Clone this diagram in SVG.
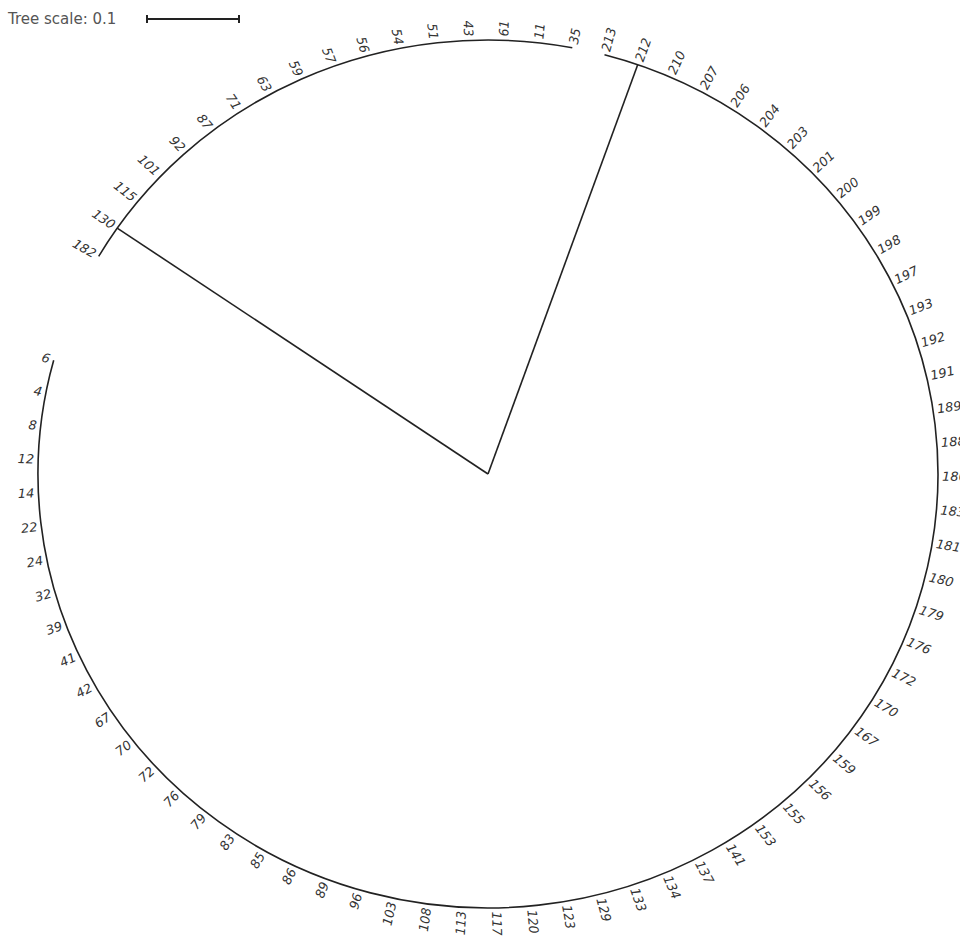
<svg xmlns="http://www.w3.org/2000/svg" width="960" height="942" viewBox="0 0 960 942">
<style>
.lab{font-family:"DejaVu Sans",sans-serif;font-size:13px;font-style:italic;fill:#333}
.l{text-anchor:end}
.edge{fill:none;stroke:#222;stroke-width:1.6}
.scale{fill:none;stroke:#222;stroke-width:2}
.st{font-family:"DejaVu Sans",sans-serif;font-size:15px;fill:#555}
</style>
<rect width="960" height="942" fill="#fff"/>
<g id="scale-bar">
<text class="st" x="8" y="24">Tree scale: 0.1</text>
<path class="scale" d="M147 19H239M147 15V23M239 15V23"/>
</g>
<g id="tree" transform="translate(488 474) scale(1 0.9644)">
<g id="connectors">
<path class="edge" vector-effect="non-scaling-stroke" d="M116.5,-434.7 A450,450 0 1 1 -434.3,-118.0"/>
<path class="edge" vector-effect="non-scaling-stroke" d="M-389.3,-225.7 A450,450 0 0 1 84.3,-442.0"/>
<path class="edge" vector-effect="non-scaling-stroke" d="M0,0 L149.7,-424.4"/>
<path class="edge" vector-effect="non-scaling-stroke" d="M0,0 L-370.8,-255.0"/>
</g>
<g id="leaves-right-clade">
<g id="leaf-213" transform="rotate(-75)"><text class="lab" x="454" dy=".35em">213</text></g>
<g id="leaf-212" transform="rotate(-70.57)"><text class="lab" x="454" dy=".35em">212</text></g>
<g id="leaf-210" transform="rotate(-66.14)"><text class="lab" x="454" dy=".35em">210</text></g>
<g id="leaf-207" transform="rotate(-61.71)"><text class="lab" x="454" dy=".35em">207</text></g>
<g id="leaf-206" transform="rotate(-57.28)"><text class="lab" x="454" dy=".35em">206</text></g>
<g id="leaf-204" transform="rotate(-52.85)"><text class="lab" x="454" dy=".35em">204</text></g>
<g id="leaf-203" transform="rotate(-48.42)"><text class="lab" x="454" dy=".35em">203</text></g>
<g id="leaf-201" transform="rotate(-43.99)"><text class="lab" x="454" dy=".35em">201</text></g>
<g id="leaf-200" transform="rotate(-39.56)"><text class="lab" x="454" dy=".35em">200</text></g>
<g id="leaf-199" transform="rotate(-35.13)"><text class="lab" x="454" dy=".35em">199</text></g>
<g id="leaf-198" transform="rotate(-30.70)"><text class="lab" x="454" dy=".35em">198</text></g>
<g id="leaf-197" transform="rotate(-26.27)"><text class="lab" x="454" dy=".35em">197</text></g>
<g id="leaf-193" transform="rotate(-21.84)"><text class="lab" x="454" dy=".35em">193</text></g>
<g id="leaf-192" transform="rotate(-17.41)"><text class="lab" x="454" dy=".35em">192</text></g>
<g id="leaf-191" transform="rotate(-12.98)"><text class="lab" x="454" dy=".35em">191</text></g>
<g id="leaf-189" transform="rotate(-8.55)"><text class="lab" x="454" dy=".35em">189</text></g>
<g id="leaf-188" transform="rotate(-4.12)"><text class="lab" x="454" dy=".35em">188</text></g>
<g id="leaf-186" transform="rotate(0.31)"><text class="lab" x="454" dy=".35em">186</text></g>
<g id="leaf-183" transform="rotate(4.74)"><text class="lab" x="454" dy=".35em">183</text></g>
<g id="leaf-181" transform="rotate(9.17)"><text class="lab" x="454" dy=".35em">181</text></g>
<g id="leaf-180" transform="rotate(13.60)"><text class="lab" x="454" dy=".35em">180</text></g>
<g id="leaf-179" transform="rotate(18.03)"><text class="lab" x="454" dy=".35em">179</text></g>
<g id="leaf-176" transform="rotate(22.46)"><text class="lab" x="454" dy=".35em">176</text></g>
<g id="leaf-172" transform="rotate(26.89)"><text class="lab" x="454" dy=".35em">172</text></g>
<g id="leaf-170" transform="rotate(31.32)"><text class="lab" x="454" dy=".35em">170</text></g>
<g id="leaf-167" transform="rotate(35.75)"><text class="lab" x="454" dy=".35em">167</text></g>
<g id="leaf-159" transform="rotate(40.18)"><text class="lab" x="454" dy=".35em">159</text></g>
<g id="leaf-156" transform="rotate(44.61)"><text class="lab" x="454" dy=".35em">156</text></g>
<g id="leaf-155" transform="rotate(49.04)"><text class="lab" x="454" dy=".35em">155</text></g>
<g id="leaf-153" transform="rotate(53.47)"><text class="lab" x="454" dy=".35em">153</text></g>
<g id="leaf-141" transform="rotate(57.90)"><text class="lab" x="454" dy=".35em">141</text></g>
<g id="leaf-137" transform="rotate(62.33)"><text class="lab" x="454" dy=".35em">137</text></g>
<g id="leaf-134" transform="rotate(66.76)"><text class="lab" x="454" dy=".35em">134</text></g>
<g id="leaf-133" transform="rotate(71.19)"><text class="lab" x="454" dy=".35em">133</text></g>
<g id="leaf-129" transform="rotate(75.62)"><text class="lab" x="454" dy=".35em">129</text></g>
<g id="leaf-123" transform="rotate(80.05)"><text class="lab" x="454" dy=".35em">123</text></g>
<g id="leaf-120" transform="rotate(84.48)"><text class="lab" x="454" dy=".35em">120</text></g>
<g id="leaf-117" transform="rotate(88.91)"><text class="lab" x="454" dy=".35em">117</text></g>
<g id="leaf-113" transform="rotate(93.34) translate(454 0) rotate(180)"><text class="lab l" dy=".35em">113</text></g>
<g id="leaf-108" transform="rotate(97.77) translate(454 0) rotate(180)"><text class="lab l" dy=".35em">108</text></g>
<g id="leaf-103" transform="rotate(102.20) translate(454 0) rotate(180)"><text class="lab l" dy=".35em">103</text></g>
<g id="leaf-96" transform="rotate(106.63) translate(454 0) rotate(180)"><text class="lab l" dy=".35em">96</text></g>
<g id="leaf-89" transform="rotate(111.06) translate(454 0) rotate(180)"><text class="lab l" dy=".35em">89</text></g>
<g id="leaf-86" transform="rotate(115.49) translate(454 0) rotate(180)"><text class="lab l" dy=".35em">86</text></g>
<g id="leaf-85" transform="rotate(119.92) translate(454 0) rotate(180)"><text class="lab l" dy=".35em">85</text></g>
<g id="leaf-83" transform="rotate(124.35) translate(454 0) rotate(180)"><text class="lab l" dy=".35em">83</text></g>
<g id="leaf-79" transform="rotate(128.78) translate(454 0) rotate(180)"><text class="lab l" dy=".35em">79</text></g>
<g id="leaf-76" transform="rotate(133.21) translate(454 0) rotate(180)"><text class="lab l" dy=".35em">76</text></g>
<g id="leaf-72" transform="rotate(137.64) translate(454 0) rotate(180)"><text class="lab l" dy=".35em">72</text></g>
<g id="leaf-70" transform="rotate(142.07) translate(454 0) rotate(180)"><text class="lab l" dy=".35em">70</text></g>
<g id="leaf-67" transform="rotate(146.50) translate(454 0) rotate(180)"><text class="lab l" dy=".35em">67</text></g>
<g id="leaf-42" transform="rotate(150.93) translate(454 0) rotate(180)"><text class="lab l" dy=".35em">42</text></g>
<g id="leaf-41" transform="rotate(155.36) translate(454 0) rotate(180)"><text class="lab l" dy=".35em">41</text></g>
<g id="leaf-39" transform="rotate(159.79) translate(454 0) rotate(180)"><text class="lab l" dy=".35em">39</text></g>
<g id="leaf-32" transform="rotate(164.22) translate(454 0) rotate(180)"><text class="lab l" dy=".35em">32</text></g>
<g id="leaf-24" transform="rotate(168.65) translate(454 0) rotate(180)"><text class="lab l" dy=".35em">24</text></g>
<g id="leaf-22" transform="rotate(173.08) translate(454 0) rotate(180)"><text class="lab l" dy=".35em">22</text></g>
<g id="leaf-14" transform="rotate(177.51) translate(454 0) rotate(180)"><text class="lab l" dy=".35em">14</text></g>
<g id="leaf-12" transform="rotate(181.94) translate(454 0) rotate(180)"><text class="lab l" dy=".35em">12</text></g>
<g id="leaf-8" transform="rotate(186.37) translate(454 0) rotate(180)"><text class="lab l" dy=".35em">8</text></g>
<g id="leaf-4" transform="rotate(190.80) translate(454 0) rotate(180)"><text class="lab l" dy=".35em">4</text></g>
<g id="leaf-6" transform="rotate(195.23) translate(454 0) rotate(180)"><text class="lab l" dy=".35em">6</text></g>
</g>
<g id="leaves-left-clade">
<g id="leaf-182" transform="rotate(-149.90) translate(454 0) rotate(180)"><text class="lab l" dy=".35em">182</text></g>
<g id="leaf-130" transform="rotate(-145.48) translate(454 0) rotate(180)"><text class="lab l" dy=".35em">130</text></g>
<g id="leaf-115" transform="rotate(-141.06) translate(454 0) rotate(180)"><text class="lab l" dy=".35em">115</text></g>
<g id="leaf-101" transform="rotate(-136.64) translate(454 0) rotate(180)"><text class="lab l" dy=".35em">101</text></g>
<g id="leaf-92" transform="rotate(-132.22) translate(454 0) rotate(180)"><text class="lab l" dy=".35em">92</text></g>
<g id="leaf-87" transform="rotate(-127.80) translate(454 0) rotate(180)"><text class="lab l" dy=".35em">87</text></g>
<g id="leaf-71" transform="rotate(-123.38) translate(454 0) rotate(180)"><text class="lab l" dy=".35em">71</text></g>
<g id="leaf-63" transform="rotate(-118.96) translate(454 0) rotate(180)"><text class="lab l" dy=".35em">63</text></g>
<g id="leaf-59" transform="rotate(-114.54) translate(454 0) rotate(180)"><text class="lab l" dy=".35em">59</text></g>
<g id="leaf-57" transform="rotate(-110.12) translate(454 0) rotate(180)"><text class="lab l" dy=".35em">57</text></g>
<g id="leaf-56" transform="rotate(-105.70) translate(454 0) rotate(180)"><text class="lab l" dy=".35em">56</text></g>
<g id="leaf-54" transform="rotate(-101.28) translate(454 0) rotate(180)"><text class="lab l" dy=".35em">54</text></g>
<g id="leaf-51" transform="rotate(-96.86) translate(454 0) rotate(180)"><text class="lab l" dy=".35em">51</text></g>
<g id="leaf-43" transform="rotate(-92.44) translate(454 0) rotate(180)"><text class="lab l" dy=".35em">43</text></g>
<g id="leaf-61" transform="rotate(-88.02)"><text class="lab" x="454" dy=".35em">61</text></g>
<g id="leaf-11" transform="rotate(-83.60)"><text class="lab" x="454" dy=".35em">11</text></g>
<g id="leaf-35" transform="rotate(-79.18)"><text class="lab" x="454" dy=".35em">35</text></g>
</g>
</g>
</svg>
